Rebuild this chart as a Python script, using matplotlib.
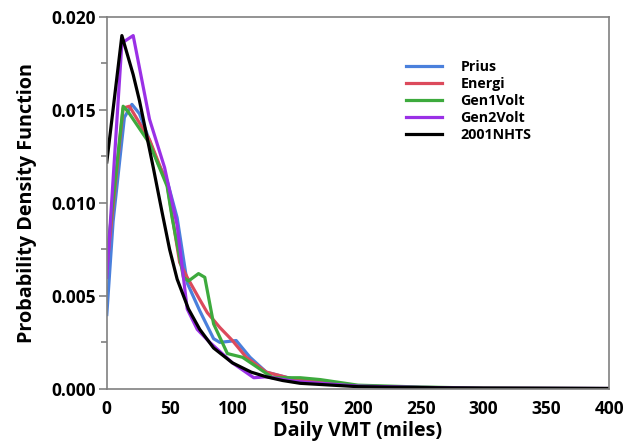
import matplotlib
matplotlib.use("Agg")
import matplotlib.pyplot as plt
from matplotlib.ticker import MultipleLocator

plt.rcParams['font.family'] = ['Open Sans', 'DejaVu Sans']

prius_x = [0, 5, 14, 20, 26, 41, 48, 56, 64, 74, 85, 90, 103, 114, 127, 150, 200, 250, 300, 400]
prius_y = [0.004, 0.009, 0.0146, 0.0153, 0.0148, 0.0121, 0.0112, 0.0092, 0.0057, 0.0042, 0.0027,
           0.0025, 0.0026, 0.0017, 0.0009, 0.0005, 0.00015, 0.00008, 0.00004, 0.00002]

energi_x = [0, 13, 18, 34, 48, 58, 64, 74, 80, 90, 100, 111, 127, 150, 200, 250, 300, 400]
energi_y = [0.0065, 0.0151, 0.0152, 0.0134, 0.0110, 0.0068, 0.006, 0.0048, 0.0041, 0.0033, 0.0026,
            0.0017, 0.0009, 0.0005, 0.00015, 0.00008, 0.00004, 0.00002]

gen1_x = [0, 13, 17, 34, 48, 52, 61, 65, 73, 78, 85, 96, 108, 119, 132, 154, 170, 200, 250, 300, 400]
gen1_y = [0.007, 0.0152, 0.0149, 0.0132, 0.0109, 0.0092, 0.006, 0.0058, 0.0062, 0.006, 0.0035,
          0.0019, 0.0017, 0.0012, 0.0006, 0.0006, 0.0005, 0.0002, 0.0001, 0.00004, 0.00002]

gen2_x = [0, 12, 21, 34, 46, 56, 64, 72, 82, 100, 117, 127, 150, 200, 250, 300, 400]
gen2_y = [0.006, 0.0186, 0.0190, 0.0145, 0.0119, 0.0088, 0.0043, 0.0032, 0.0025, 0.0014, 0.0006,
          0.00065, 0.0004, 0.00015, 0.00008, 0.00003, 0.00002]

nhts_x = [0, 12, 21, 26, 37, 44, 50, 56, 65, 74, 85, 100, 115, 127, 140, 154, 200, 250, 300, 350, 400]
nhts_y = [0.0122, 0.0190, 0.0169, 0.0155, 0.0119, 0.0095, 0.0075, 0.0059, 0.0043, 0.0032, 0.0022,
          0.0014, 0.0009, 0.00065, 0.00045, 0.0003, 0.00012, 0.00007, 0.00004, 0.00003, 0.00002]

series = [
    ("Prius", prius_x, prius_y, "#4a80dc"),
    ("Energi", energi_x, energi_y, "#dc4a5c"),
    ("Gen1Volt", gen1_x, gen1_y, "#3daa3d"),
    ("Gen2Volt", gen2_x, gen2_y, "#9a30e6"),
    ("2001NHTS", nhts_x, nhts_y, "#000000"),
]

fig = plt.figure(figsize=(6.32, 4.47), dpi=100)
ax = fig.add_axes([0.169, 0.13, 0.795, 0.832])

for name, x, y, c in series:
    ax.plot(x, y, color=c, lw=2.3, label=name)

ax.set_xlim(0, 400)
ax.set_ylim(0, 0.020)
ax.xaxis.set_major_locator(MultipleLocator(50))
ax.yaxis.set_minor_locator(MultipleLocator(0.0025))
ax.set_yticks([0, 0.005, 0.010, 0.015, 0.020])
ax.set_yticklabels(["0.000", "0.005", "0.010", "0.015", "0.020"])

for s in ax.spines.values():
    s.set_color("#808080")
    s.set_linewidth(1.2)
ax.tick_params(axis='y', which='major', direction='out', length=6, color="#808080",
               labelsize=12.5, width=1.2, pad=2)
ax.tick_params(axis='y', which='minor', direction='out', length=4, color="#808080", width=1.2)
ax.tick_params(axis='x', which='major', length=0, labelsize=12.5, pad=8)
for lbl in ax.get_xticklabels() + ax.get_yticklabels():
    lbl.set_fontweight('bold')

ax.set_xlabel("Daily VMT (miles)", fontsize=14.2, fontweight='bold', labelpad=2)
ax.set_ylabel("Probability Density Function", fontsize=14.2, fontweight='bold', labelpad=10)

leg = ax.legend(loc='upper left', bbox_to_anchor=(0.57, 0.92), frameon=False,
                prop={'weight': 'bold', 'size': 10.3}, handlelength=2.5, handletextpad=1.3,
                labelspacing=0.22)

fig.savefig("out.png", dpi=100)
